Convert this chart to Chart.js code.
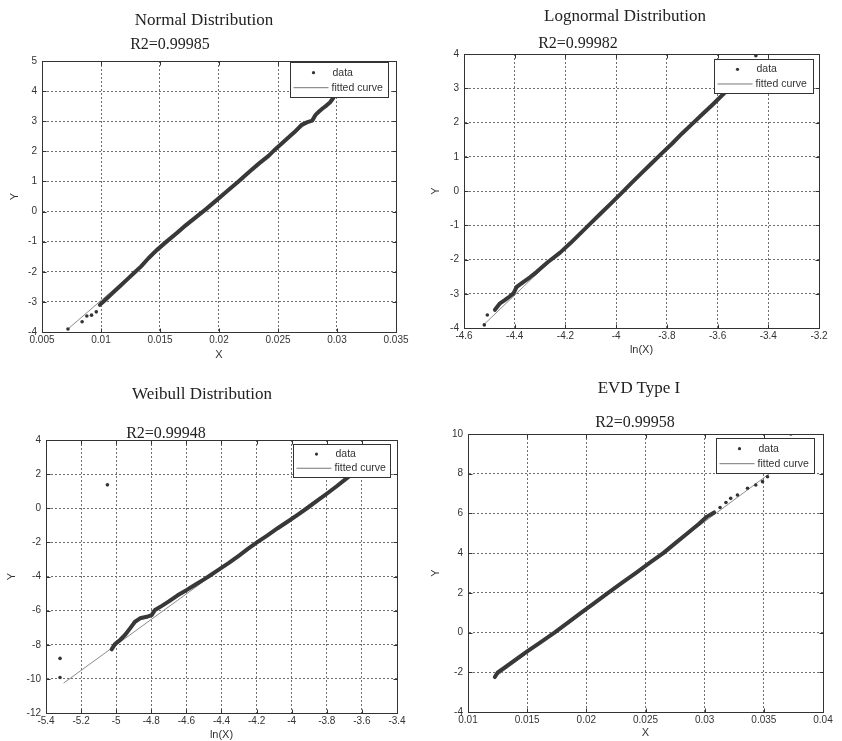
<!DOCTYPE html>
<html><head><meta charset="utf-8">
<script src="https://cdn.jsdelivr.net/npm/chart.js@4.4.1/dist/chart.umd.min.js"></script>
<style>
html,body{margin:0;padding:0;background:#fff;overflow:hidden;width:842px;height:741px;}
.pane{position:absolute;}
.t{position:absolute;font-family:"Liberation Serif","Times New Roman",serif;color:#222;white-space:nowrap;transform:translate(-50%,-50%);line-height:1;}
</style></head><body>
<div id="root"></div>
<script>
// ---------------- DATA ----------------
// Normal Distribution
const normalTicksX = [0.005, 0.01, 0.015, 0.02, 0.025, 0.03, 0.035];
const normalTicksY = [-4, -3, -2, -1, 0, 1, 2, 3, 4, 5];
const normalBodyX = [0.0099,0.0104,0.0110,0.0116,0.0122,0.0128,0.0134,0.0140,0.0148,0.0156,0.0164,0.0172,0.0180,0.0189,0.0198,0.0207,0.0216,0.0225,0.0234,0.0242,0.0248,0.0256,0.0264,0.0270,0.0275,0.0279,0.0282,0.0285,0.0288,0.0291,0.0294,0.0297];
const normalBodyY = [-3.10,-2.92,-2.70,-2.48,-2.26,-2.04,-1.82,-1.56,-1.25,-0.98,-0.72,-0.45,-0.20,0.08,0.38,0.68,0.98,1.30,1.60,1.85,2.08,2.36,2.64,2.88,2.97,3.02,3.22,3.33,3.43,3.52,3.62,3.78];
const normalTailX = [0.0072, 0.0084, 0.0088, 0.0092, 0.0096];
const normalTailY = [-3.90, -3.66, -3.47, -3.44, -3.33];
const normalFitX = [0.0072, 0.0297];
const normalFitY = [-3.90, 3.70];

// Lognormal Distribution
const lognTicksX = [-4.6, -4.4, -4.2, -4, -3.8, -3.6, -3.4, -3.2];
const lognTicksY = [-4, -3, -2, -1, 0, 1, 2, 3, 4];
const lognBodyX = [-4.478,-4.458,-4.438,-4.420,-4.405,-4.392,-4.372,-4.340,-4.313,-4.270,-4.221,-4.180,-4.140,-4.100,-4.060,-4.020,-3.980,-3.940,-3.900,-3.860,-3.820,-3.780,-3.740,-3.700,-3.660,-3.620,-3.580,-3.540,-3.500];
const lognBodyY = [-3.47,-3.28,-3.18,-3.08,-2.99,-2.80,-2.69,-2.52,-2.36,-2.08,-1.80,-1.52,-1.23,-0.94,-0.65,-0.36,-0.07,0.23,0.52,0.81,1.10,1.38,1.68,1.96,2.24,2.52,2.81,3.10,3.40];
const lognTailX = [-4.520, -4.508, -3.449];
const lognTailY = [-3.91, -3.62, 3.95];
const lognFitX = [-4.52, -3.45];
const lognFitY = [-3.89, 3.70];

// Weibull Distribution
const weibTicksX = [-5.4, -5.2, -5, -4.8, -4.6, -4.4, -4.2, -4, -3.8, -3.6, -3.4];
const weibTicksY = [-12, -10, -8, -6, -4, -2, 0, 2, 4];
const weibBodyX = [-5.026,-5.007,-4.978,-4.950,-4.921,-4.893,-4.864,-4.826,-4.798,-4.779,-4.740,-4.700,-4.650,-4.600,-4.550,-4.500,-4.474,-4.420,-4.360,-4.300,-4.250,-4.198,-4.140,-4.080,-4.020,-3.960,-3.913,-3.860,-3.800,-3.740,-3.700,-3.657,-3.620];
const weibBodyY = [-8.27,-7.96,-7.72,-7.43,-7.04,-6.65,-6.45,-6.36,-6.26,-5.96,-5.72,-5.46,-5.10,-4.80,-4.48,-4.17,-4.00,-3.63,-3.22,-2.77,-2.38,-2.00,-1.60,-1.17,-0.76,-0.34,0.00,0.40,0.85,1.32,1.65,2.00,2.28];
const weibTailX = [-5.32, -5.32, -5.05];
const weibTailY = [-8.80, -9.92, 1.37];
const weibFitX = [-5.30, -3.60];
const weibFitY = [-10.25, 2.45];

// EVD Type I
const evdTicksX = [0.01, 0.015, 0.02, 0.025, 0.03, 0.035, 0.04];
const evdTicksY = [-4, -2, 0, 2, 4, 6, 8, 10];
const evdBodyX = [0.01227,0.01252,0.0130,0.0140,0.0150,0.0160,0.01731,0.0185,0.0196,0.0207,0.02184,0.0230,0.0242,0.0254,0.0265,0.0275,0.0285,0.0295,0.0302,0.0308];
const evdBodyY = [-2.24,-2.00,-1.80,-1.37,-0.95,-0.54,0.00,0.53,1.02,1.50,2.00,2.50,3.01,3.53,4.00,4.49,4.98,5.47,5.84,6.05];
const evdTailX = [0.0313, 0.0318, 0.0322, 0.03277, 0.03362, 0.03432, 0.03489, 0.03531, 0.03729];
const evdTailY = [6.30, 6.55, 6.76, 6.93, 7.27, 7.43, 7.60, 7.85, 10.00];
const evdFitX = [0.0122, 0.0375];
const evdFitY = [-2.28, 8.90];

// ---------------- LAYOUT ----------------
const panels = [
  { q:[0,0,421,370], area:[42,61,396,332], yTitleX:15, xTitleY:355, xTitle:'X',
    xMin:0.005, xMax:0.035, yMin:-4, yMax:5, ticksX:normalTicksX, ticksY:normalTicksY,
    bodyX:normalBodyX, bodyY:normalBodyY, tailX:normalTailX, tailY:normalTailY, fitX:normalFitX, fitY:normalFitY,
    leg:{gapR:8, gapT:1, w:98, h:35},
    title:['Normal Distribution',204,19], r2:['R2=0.99985',170,44] },
  { q:[421,0,421,370], area:[464,54,819,328], yTitleX:436, xTitleY:350, xTitle:'ln(X)',
    xMin:-4.6, xMax:-3.2, yMin:-4, yMax:4, ticksX:lognTicksX, ticksY:lognTicksY,
    bodyX:lognBodyX, bodyY:lognBodyY, tailX:lognTailX, tailY:lognTailY, fitX:lognFitX, fitY:lognFitY,
    leg:{gapR:6, gapT:5, w:99, h:34},
    title:['Lognormal Distribution',625,15], r2:['R2=0.99982',578,43] },
  { q:[0,370,421,371], area:[46,440,397,713], yTitleX:12, xTitleY:735, xTitle:'ln(X)',
    xMin:-5.4, xMax:-3.4, yMin:-12, yMax:4, ticksX:weibTicksX, ticksY:weibTicksY,
    bodyX:weibBodyX, bodyY:weibBodyY, tailX:weibTailX, tailY:weibTailY, fitX:weibFitX, fitY:weibFitY,
    leg:{gapR:7, gapT:4, w:97, h:33},
    title:['Weibull Distribution',202,393], r2:['R2=0.99948',166,433] },
  { q:[421,370,421,371], area:[468,434,823,712], yTitleX:436, xTitleY:733, xTitle:'X',
    xMin:0.01, xMax:0.04, yMin:-4, yMax:10, ticksX:evdTicksX, ticksY:evdTicksY,
    bodyX:evdBodyX, bodyY:evdBodyY, tailX:evdTailX, tailY:evdTailY, fitX:evdFitX, fitY:evdFitY,
    leg:{gapR:9, gapT:4, w:98, h:35},
    title:['EVD Type I',639,387], r2:['R2=0.99958',635,422] }
];

const SANS = '"Liberation Sans", Arial, sans-serif';
const TXT = '#333';
const pts = (xs, ys) => xs.map((x, i) => ({x: x, y: ys[i]}));

const framePlugin = {
  id: 'matlabFrame',
  afterDraw(chart, args, opts) {
    const ctx = chart.ctx, a = chart.chartArea;
    const xs = chart.scales.x, ys = chart.scales.y;
    const L = Math.round(a.left) + 0.5, R = Math.round(a.right) + 0.5;
    const T = Math.round(a.top) + 0.5, B = Math.round(a.bottom) + 0.5;
    ctx.save();
    ctx.strokeStyle = '#333';
    ctx.lineWidth = 1;
    ctx.setLineDash([]);
    // inward ticks
    ctx.beginPath();
    xs.ticks.forEach(t => {
      const px = Math.round(xs.getPixelForValue(t.value)) + 0.5;
      ctx.moveTo(px, B); ctx.lineTo(px, B - 4);
      ctx.moveTo(px, T); ctx.lineTo(px, T + 4);
    });
    ys.ticks.forEach(t => {
      const py = Math.round(ys.getPixelForValue(t.value)) + 0.5;
      ctx.moveTo(L, py); ctx.lineTo(L + 4, py);
      ctx.moveTo(R, py); ctx.lineTo(R - 4, py);
    });
    ctx.stroke();
    // legend box
    const lg = opts.leg;
    const bx = Math.round(a.right - lg.gapR - lg.w) + 0.5;
    const by = Math.round(a.top + lg.gapT) + 0.5;
    ctx.fillStyle = '#fff';
    ctx.fillRect(bx, by, lg.w, lg.h);
    ctx.strokeRect(bx, by, lg.w, lg.h);
    const y1 = by + lg.h * 0.29, y2 = by + lg.h * 0.72;
    ctx.fillStyle = '#333';
    ctx.beginPath(); ctx.arc(bx + 23, y1, 1.6, 0, Math.PI * 2); ctx.fill();
    ctx.strokeStyle = '#777';
    ctx.beginPath(); ctx.moveTo(bx + 3, y2); ctx.lineTo(bx + 38, y2); ctx.stroke();
    ctx.fillStyle = TXT;
    ctx.font = '10.5px ' + SANS;
    ctx.textBaseline = 'middle';
    ctx.textAlign = 'left';
    ctx.fillText('data', bx + 42, y1);
    ctx.fillText('fitted curve', bx + 41, y2);
    // frame
    ctx.strokeStyle = '#333';
    ctx.strokeRect(L, T, R - L, B - T);
    ctx.restore();
  }
};

const root = document.getElementById('root');
panels.forEach(p => {
  const [qx, qy, qw, qh] = p.q;
  const [L, T, R, B] = p.area;
  const half = 5.5;
  const pl = p.yTitleX - half - qx;
  const W = L - qx - pl;
  const H = Math.min(p.xTitleY + half - B, qy + qh - B);
  const pb = Math.max(qy + qh - B - H, 0);
  const pad = {left: pl, top: T - qy, right: qx + qw - R, bottom: pb};

  const wrap = document.createElement('div');
  wrap.className = 'pane';
  wrap.style.left = qx + 'px'; wrap.style.top = qy + 'px';
  wrap.style.width = qw + 'px'; wrap.style.height = qh + 'px';
  const cv = document.createElement('canvas');
  cv.width = qw; cv.height = qh;
  cv.style.width = qw + 'px'; cv.style.height = qh + 'px';
  wrap.appendChild(cv);
  root.appendChild(wrap);

  const tickFont = {family: SANS, size: 10};
  const titleFont = {family: SANS, size: 11, lineHeight: 1};
  const grid = {color: '#6e6e6e', lineWidth: 1, drawTicks: false, tickLength: 0};
  const border = {display: true, color: '#333', width: 1, dash: [2, 2]};

  new Chart(cv, {
    type: 'scatter',
    data: { datasets: [
      { label: 'data', data: pts(p.bodyX, p.bodyY), showLine: true, borderColor: '#383838',
        borderWidth: 4, pointRadius: 0, tension: 0, borderJoinStyle: 'round', borderCapStyle: 'round' },
      { label: 'data tail', data: pts(p.tailX, p.tailY), showLine: false, pointRadius: 1.8,
        backgroundColor: '#333', borderColor: '#333', borderWidth: 0 },
      { label: 'fitted curve', data: pts(p.fitX, p.fitY), showLine: true, borderColor: '#8c8c8c',
        borderWidth: 1, pointRadius: 0 }
    ]},
    options: {
      responsive: false, animation: false, devicePixelRatio: 1,
      layout: { padding: pad },
      plugins: { legend: {display: false}, tooltip: {enabled: false}, title: {display: false},
                 matlabFrame: { leg: p.leg } },
      scales: {
        x: { type: 'linear', min: p.xMin, max: p.xMax,
             afterBuildTicks: s => { s.ticks = p.ticksX.map(v => ({value: v})); },
             afterFit: s => { s.height = H; s.paddingLeft = 0; s.paddingRight = 0; },
             ticks: { callback: (v) => String(v), font: tickFont, color: TXT, padding: 2, maxRotation: 0, autoSkip: false },
             grid: grid, border: border,
             title: { display: true, text: p.xTitle, font: titleFont, color: TXT, padding: 0 } },
        y: { type: 'linear', min: p.yMin, max: p.yMax,
             afterBuildTicks: s => { s.ticks = p.ticksY.map(v => ({value: v})); },
             afterFit: s => { s.width = W; s.paddingTop = 0; s.paddingBottom = 0; },
             ticks: { callback: (v) => String(v), font: tickFont, color: TXT, padding: 5, autoSkip: false },
             grid: grid, border: border,
             title: { display: true, text: 'Y', font: titleFont, color: TXT, padding: 0 } }
      }
    },
    plugins: [framePlugin]
  });

  const t1 = document.createElement('div');
  t1.className = 't'; t1.textContent = p.title[0];
  t1.style.left = p.title[1] + 'px'; t1.style.top = p.title[2] + 'px'; t1.style.fontSize = '17px';
  root.appendChild(t1);
  const t2 = document.createElement('div');
  t2.className = 't'; t2.textContent = p.r2[0];
  t2.style.left = p.r2[1] + 'px'; t2.style.top = p.r2[2] + 'px'; t2.style.fontSize = '16px';
  root.appendChild(t2);
});
</script>
</body></html>
